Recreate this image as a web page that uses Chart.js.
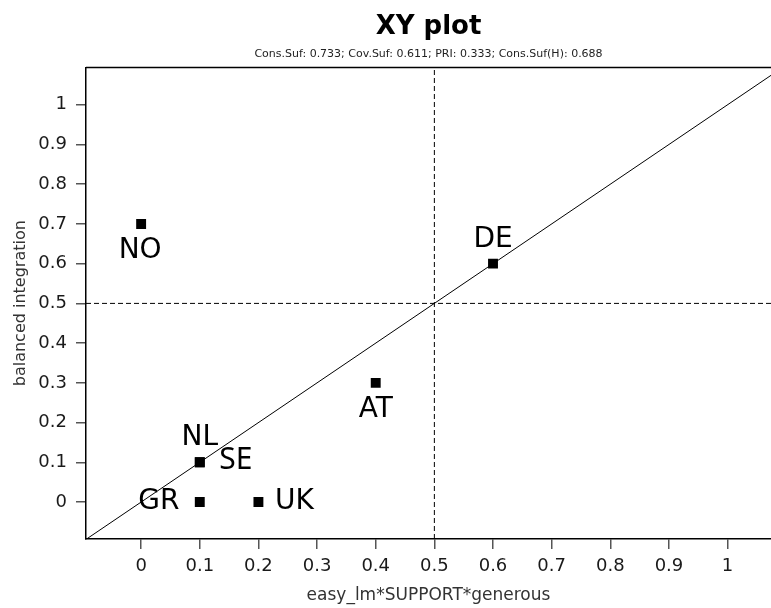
<!DOCTYPE html>
<html>
<head>
<meta charset="utf-8">
<script src="https://cdn.jsdelivr.net/npm/chart.js@4/dist/chart.umd.min.js"></script>
<style>
  html, body { margin: 0; padding: 0; background: #fff; }
  #wrap { width: 771px; height: 608px; }
</style>
</head>
<body>
<div id="wrap"><canvas id="xyPlot" width="771" height="608"></canvas></div>
<script>
    // Dados do gráfico XY
    const countries = ['NO', 'DE', 'AT', 'NL', 'SE', 'GR', 'UK'];
    const xValues = [0, 0.6, 0.4, 0.1, 0.1, 0.1, 0.2];
    const yValues = [0.7, 0.6, 0.3, 0.1, 0.1, 0, 0];
    const tickValues = [0, 0.1, 0.2, 0.3, 0.4, 0.5, 0.6, 0.7, 0.8, 0.9, 1];
    const threshold = 0.5;
    const xMin = -0.094, xMax = 1.074;
    const yMin = -0.093, yMax = 1.094;

    // Posição dos rótulos em relação ao ponto (px)
    const labelOffsets = {
        NO: [-1, 27], DE: [0, -24], AT: [0, 27], NL: [0, -25],
        SE: [36, -2], GR: [-41, 0], UK: [36, 0]
    };

    Chart.defaults.font.family = "'DejaVu Sans', sans-serif";
    Chart.defaults.color = '#1a1a1a';

    const points = countries.map((c, i) => ({ x: xValues[i], y: yValues[i] }));

    // Linha superior da caixa do gráfico
    const topBorder = {
        id: 'topBorder',
        afterDraw(chart) {
            const { ctx, chartArea } = chart;
            ctx.save();
            ctx.strokeStyle = '#000';
            ctx.lineWidth = 1.5;
            ctx.beginPath();
            ctx.moveTo(chartArea.left, chartArea.top);
            ctx.lineTo(chartArea.right, chartArea.top);
            ctx.stroke();
            ctx.restore();
        }
    };

    // Rótulos dos países
    const countryLabels = {
        id: 'countryLabels',
        afterDatasetsDraw(chart) {
            const { ctx } = chart;
            const meta = chart.getDatasetMeta(0);
            ctx.save();
            ctx.fillStyle = '#000';
            ctx.textAlign = 'center';
            ctx.textBaseline = 'middle';
            meta.data.forEach((pt, i) => {
                const name = countries[i];
                const off = labelOffsets[name];
                ctx.font = name === 'SE' ? "30px 'Noto Sans'" : "28px 'DejaVu Sans'";
                ctx.fillText(name, pt.x + off[0], pt.y + off[1]);
            });
            ctx.restore();
        }
    };

    const axisTicks = (scale) => { scale.ticks = tickValues.map(v => ({ value: v })); };

    const configXY = {
        type: 'scatter',
        data: {
            datasets: [{
                data: points,
                pointStyle: 'rect',
                pointRadius: 7,
                pointBorderWidth: 0,
                backgroundColor: '#000',
                borderColor: '#000'
            }, {
                data: [{ x: xMin, y: xMin }, { x: 1.2, y: 1.2 }],
                showLine: true,
                pointRadius: 0,
                borderColor: '#000',
                borderWidth: 1
            }, {
                data: [{ x: threshold, y: yMin }, { x: threshold, y: yMax }],
                showLine: true,
                pointRadius: 0,
                borderColor: '#000',
                borderWidth: 1,
                borderDash: [5, 3]
            }, {
                data: [{ x: xMin, y: threshold }, { x: xMax, y: threshold }],
                showLine: true,
                pointRadius: 0,
                borderColor: '#000',
                borderWidth: 1,
                borderDash: [5, 3]
            }]
        },
        options: {
            responsive: false,
            animation: false,
            layout: { padding: 0, autoPadding: false },
            scales: {
                x: {
                    type: 'linear',
                    min: xMin,
                    max: xMax,
                    afterBuildTicks: axisTicks,
                    afterFit(scale) { scale.height = 69; },
                    grid: { drawOnChartArea: false, tickLength: 10, tickColor: '#555', lineWidth: 1.5 },
                    border: { color: '#000', width: 1.5 },
                    ticks: { font: { size: 18 }, padding: 7, maxRotation: 0, callback: v => String(v) },
                    title: {
                        display: true,
                        text: 'easy_lm*SUPPORT*generous',
                        color: '#333',
                        font: { size: 17 },
                        padding: { top: 0, bottom: 2 }
                    }
                },
                y: {
                    type: 'linear',
                    min: yMin,
                    max: yMax,
                    afterBuildTicks: axisTicks,
                    afterFit(scale) { scale.width = 86; },
                    grid: { drawOnChartArea: false, tickLength: 10, tickColor: '#555', lineWidth: 1.5 },
                    border: { color: '#000', width: 1.5 },
                    ticks: { font: { size: 18 }, padding: 9, callback: v => String(v) },
                    title: {
                        display: true,
                        text: 'balanced integration',
                        color: '#333',
                        font: { size: 16 },
                        padding: { top: 11, bottom: 0 }
                    }
                }
            },
            plugins: {
                legend: { display: false },
                tooltip: { enabled: false },
                title: {
                    display: true,
                    fullSize: false,
                    text: 'XY plot',
                    color: '#000',
                    font: { size: 26, weight: 'bold' },
                    padding: { top: 12, bottom: 0 }
                },
                subtitle: {
                    display: true,
                    fullSize: false,
                    text: 'Cons.Suf: 0.733; Cov.Suf: 0.611; PRI: 0.333; Cons.Suf(H): 0.688',
                    color: '#222',
                    font: { size: 11 },
                    padding: { top: 4, bottom: 7 }
                }
            }
        },
        plugins: [topBorder, countryLabels]
    };

    const ctxXY = document.getElementById('xyPlot').getContext('2d');
    const graficoXY = new Chart(ctxXY, configXY);
</script>
</body>
</html>
